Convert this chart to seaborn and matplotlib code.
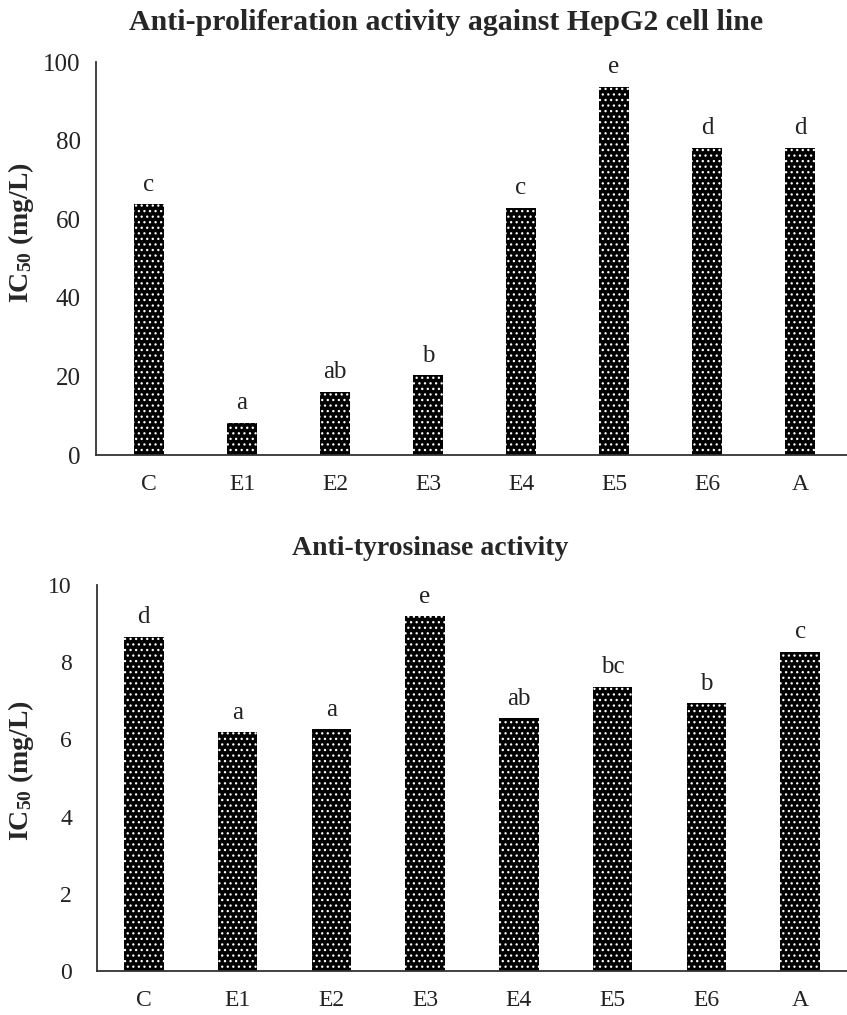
import matplotlib
matplotlib.use("Agg")
import matplotlib.pyplot as plt
import seaborn as sns
import numpy as np
import pandas as pd

# values
groups = ["C", "E1", "E2", "E3", "E4", "E5", "E6", "A"]
hepg2_ic50 = [63.9, 8.2, 16.1, 20.4, 62.9, 93.7, 78.2, 78.2]
hepg2_letters = ["c", "a", "ab", "b", "c", "e", "d", "d"]
tyrosinase_ic50 = [8.66, 6.18, 6.26, 9.19, 6.55, 7.37, 6.94, 8.27]
tyrosinase_letters = ["d", "a", "a", "e", "ab", "bc", "b", "c"]
hepg2_ticks = [0, 20, 40, 60, 80, 100]
tyrosinase_ticks = [0, 2, 4, 6, 8, 10]

sns.set_style("white")
plt.rcParams["font.family"] = ["Liberation Serif", "DejaVu Serif"]
plt.rcParams["mathtext.fontset"] = "custom"
plt.rcParams["mathtext.rm"] = "Liberation Serif:bold"
plt.rcParams["mathtext.it"] = "Liberation Serif:bold"
plt.rcParams["mathtext.bf"] = "Liberation Serif:bold"
plt.rcParams["hatch.linewidth"] = 0.9

fig = plt.figure(figsize=(8.47, 10.15), dpi=100)
ax_top = fig.add_axes([0.1133, 0.5517, 0.8867, 0.3872])
ax_bot = fig.add_axes([0.1145, 0.0433, 0.8855, 0.3803])

df_top = pd.DataFrame({"group": groups, "ic50": hepg2_ic50})
df_bot = pd.DataFrame({"group": groups, "ic50": tyrosinase_ic50})

sns.barplot(data=df_top, x="group", y="ic50", ax=ax_top, color="black",
            saturation=1, width=0.33, edgecolor="white", linewidth=0,
            hatch="...")
sns.barplot(data=df_bot, x="group", y="ic50", ax=ax_bot, color="black",
            saturation=1, width=0.42, edgecolor="white", linewidth=0,
            hatch="...")

ax_top.bar_label(ax_top.containers[0], labels=hepg2_letters, padding=6,
                 fontsize=18, color="#222222")
ax_bot.bar_label(ax_bot.containers[0], labels=tyrosinase_letters, padding=6,
                 fontsize=18, color="#222222")

for ax, ticks in [(ax_top, hepg2_ticks), (ax_bot, tyrosinase_ticks)]:
    ax.set_ylim(ticks[0], ticks[-1])
    ax.set_yticks(ticks)
    ax.set_xlabel("")
    ax.set_ylabel(r"IC$_{50}$ (mg/L)", fontsize=20, fontweight="bold")
    for side in ["top", "right"]:
        ax.spines[side].set_visible(False)
    for side in ["left", "bottom"]:
        ax.spines[side].set_color("#333333")
        ax.spines[side].set_linewidth(1.3)
    ax.tick_params(axis="x", labelsize=17, colors="#222222")

ax_top.tick_params(axis="y", labelsize=18, colors="#222222")
ax_bot.tick_params(axis="y", labelsize=17, colors="#222222")

# top panel: no tick marks
ax_top.set_xlim(-0.57, 7.505)
ax_top.tick_params(axis="y", length=0, pad=11)
ax_top.tick_params(axis="x", length=0, pad=14)
ax_top.yaxis.set_label_coords(-0.08, 0.567)

# bottom panel: ticks on y and between categories on x
ax_bot.set_xlim(-0.5, 7.41)
ax_bot.tick_params(axis="y", length=7, width=1.2, direction="out", pad=11,
                   color="#333333")
ax_bot.set_xticks(np.arange(-0.5, 8, 1), minor=True)
ax_bot.tick_params(axis="x", which="major", length=0, pad=14)
ax_bot.tick_params(axis="x", which="minor", length=7, width=1.2,
                   direction="out", color="#333333")
ax_bot.yaxis.set_label_coords(-0.081, 0.52)

fig.text(0.527, 0.978, "Anti-proliferation activity against HepG2 cell line",
         ha="center", va="center", fontsize=21.5, fontweight="bold")
fig.text(0.508, 0.46, "Anti-tyrosinase activity",
         ha="center", va="center", fontsize=20, fontweight="bold")

fig.savefig("out.png", dpi=100)
